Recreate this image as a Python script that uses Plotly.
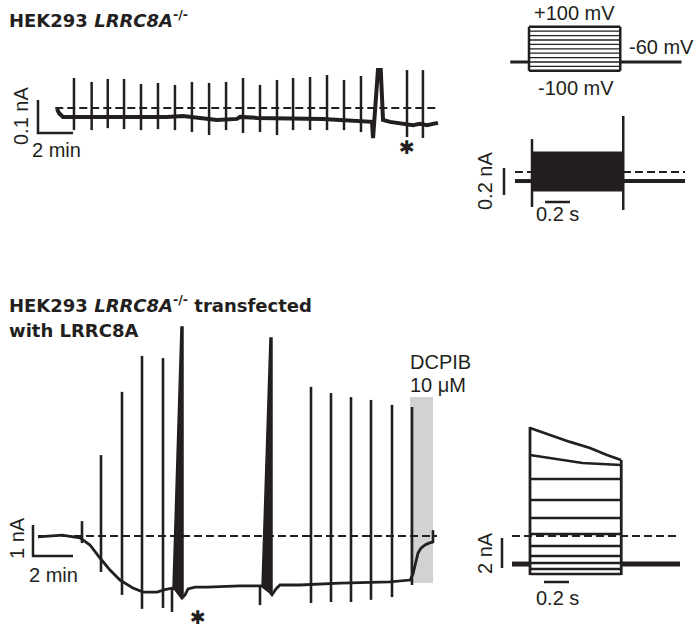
import plotly.graph_objects as go

W, H = 697, 633
INK = "#231f20"
FONT = "Liberation Sans, Arial, sans-serif"
TFONT = "DejaVu Sans, sans-serif"

# ---------------- data ----------------
# Panel A: HEK293 LRRC8A-/- time course (min, nA)
A_base_t = [0, 0.11, 0.34, 0.74, 1.49, 2.46, 3.43, 4.46, 5.31, 6.29, 7.20, 8.17, 9.14, 10.29,
            10.46, 11.43, 12.34, 13.31, 14.29, 15.20, 16.17, 17.03, 17.71, 18.00, 18.06, 18.34,
            18.50, 18.63, 19.03, 19.43, 19.89, 20.34, 20.74, 21.14, 21.49, 21.77]
A_base_i = [-0.003, -0.015, -0.027, -0.027, -0.030, -0.030, -0.027, -0.030, -0.027, -0.027,
            -0.024, -0.030, -0.036, -0.033, -0.027, -0.030, -0.030, -0.033, -0.030, -0.033,
            -0.036, -0.039, -0.042, -0.042, -0.091, 0.115, 0.115, -0.036, -0.042, -0.045,
            -0.048, -0.052, -0.048, -0.052, -0.048, -0.045]
A_spk_t = [0.97, 1.98, 2.90, 3.83, 4.80, 5.77, 6.74, 7.71, 8.69, 9.66, 10.63, 11.60, 12.57,
           13.49, 14.46, 15.43, 16.40, 17.37, 20.00, 20.91]
A_spk_top = [0.091, 0.079, 0.088, 0.088, 0.073, 0.076, 0.070, 0.079, 0.076, 0.079, 0.091,
             0.070, 0.085, 0.091, 0.094, 0.100, 0.085, 0.097, 0.115, 0.115]
A_spk_bot = [-0.067, -0.067, -0.061, -0.064, -0.067, -0.064, -0.067, -0.073, -0.082, -0.067,
             -0.076, -0.073, -0.082, -0.067, -0.067, -0.067, -0.067, -0.073, -0.088, -0.091]

# Voltage protocol (s, mV)
V_levels = [-100, -80, -60, -40, -20, 0, 20, 40, 60, 80, 100]
V_hold = -60
step_dur = 0.73
pre_t, post_t = -0.15, 1.22

# Panel B: LRRC8A-/- current responses (s, nA)
B_lvl_i = [-0.133, -0.108, -0.085, -0.062, -0.040, -0.015, 0.012, 0.040, 0.070, 0.100, 0.141]
B_hold_i = -0.067
B_cap_on = (0.244, -0.259)
B_cap_off = (0.415, -0.281)

# Panel C: LRRC8A-transfected time course (min, nA)
C_base_t = [0, 1.2, 2.1, 2.6, 3.1, 3.6, 4.1, 4.75, 5.25, 5.6, 5.95, 6.35, 6.7, 6.85, 7.2, 7.35,
            7.5, 7.85, 8.45, 10.1, 11.2, 11.6, 11.7, 11.9, 12.1, 13.1, 15.1, 17.6, 18.6, 18.75,
            18.9, 19.0, 19.15, 19.35, 19.55, 19.75]
C_base_i = [-0.03, 0.03, -0.06, -0.29, -0.71, -1.10, -1.42, -1.68, -1.81, -1.82, -1.81, -1.73,
            -1.68, -1.71, -2.00, -1.90, -1.71, -1.65, -1.65, -1.61, -1.61, -1.81, -1.90, -1.71,
            -1.58, -1.58, -1.52, -1.48, -1.42, -1.23, -0.84, -0.55, -0.39, -0.29, -0.23, -0.19]
C_spk_t = [2.2, 3.15, 4.2, 5.2, 6.25, 6.7, 11.1, 13.65, 14.65, 15.65, 16.65, 17.7, 18.7, 19.75]
C_spk_top = [0.48, 2.61, 4.65, 5.81, 5.74, -1.65, -1.58, 4.81, 4.61, 4.48, 4.39, 4.23, 4.16, 0.19]
C_spk_bot = [-0.23, -1.16, -1.90, -2.35, -2.32, -2.45, -2.23, -2.16, -2.13, -2.13, -2.06, -1.97,
             -1.58, -0.23]
C_big1_t = [6.75, 7.15, 7.25, 7.25]
C_big1_i = [-1.68, 6.74, 6.74, -2.00]
C_big2_t = [11.2, 11.6, 11.7, 11.7]
C_big2_i = [-1.65, 6.39, 6.39, -1.90]
C_dcpib = (18.6, 19.75)
C_dcpib_i = (-1.52, 4.48)

# Panel D: LRRC8A-transfected current responses (s, nA)
D_top_t = [0.0, 0.16, 0.32, 0.48, 0.616, 0.728]
D_top_i = [7.2, 6.73, 6.27, 5.87, 5.4, 5.07]
D_2nd_t = [0.0, 0.16, 0.42, 0.728]
D_2nd_i = [5.4, 5.2, 4.87, 4.73]
D_flat_i = [3.8, 2.4, 1.2, 0.13, -0.67, -1.33, -1.8, -2.2, -2.53]
D_hold_i = -1.87
D_edge_on = (7.27, -2.6)
D_edge_off = (5.07, -2.6)

# ---------------- layout helpers ----------------
# panel: pixel box (x0,x1,y0,y1), pixel of data origin and pixels per unit
panels = {
    "A": dict(ax="", box=(0, 450, 36, 175), ox=57, sx=17.5, oy=108, sy=330),
    "P": dict(ax="2", box=(455, 697, 0, 100), ox=529, sx=125, oy=48.8, sy=0.22),
    "B": dict(ax="3", box=(455, 697, 100, 235), ox=532, sx=125, oy=172, sy=135),
    "C": dict(ax="4", box=(0, 450, 290, 633), ox=38, sx=20, oy=536, sy=31),
    "D": dict(ax="5", box=(455, 697, 380, 633), ox=530, sx=125, oy=536, sy=15),
}


def xy(p):
    a = panels[p]["ax"]
    return "x" + a, "y" + a


def to_data(p, px, py):
    d = panels[p]
    return (px - d["ox"]) / d["sx"], (d["oy"] - py) / d["sy"]


fig = go.Figure()


def line(p, x, y, w=2.5, dash=None, fill=None, color=INK):
    xa, ya = xy(p)
    fig.add_trace(go.Scatter(x=list(x), y=list(y), mode="lines", xaxis=xa, yaxis=ya,
                             line=dict(color=color, width=w, dash=dash),
                             fill=fill, fillcolor=color if fill else None,
                             hoverinfo="skip", showlegend=False))


def spikes(p, ts, tops, bots, w=2.5):
    for t, a, b in zip(ts, tops, bots):
        line(p, [t, t], [a, b], w=w)


DASH = "8px,4px"

# ----- Panel A -----
line("A", [-0.1, 21.7], [0, 0], w=2, dash=DASH)
line("A", A_base_t, A_base_i, w=4)
spikes("A", A_spk_t, A_spk_top, A_spk_bot, w=2.5)
a0t, a0i = to_data("A", 38, 133)
line("A", [a0t, a0t, a0t + 2], [a0i + 0.1, a0i, a0i], w=2.5)

# ----- Protocol -----
line("P", [pre_t, 0], [V_hold, V_hold], w=3)
line("P", [step_dur, post_t], [V_hold, V_hold], w=3)
for v in V_levels:
    line("P", [0, step_dur], [v, v], w=2.5 if v in (V_levels[0], V_levels[-1]) else 1.3)
line("P", [0, 0], [V_levels[0], V_levels[-1]], w=2.5)
line("P", [step_dur, step_dur], [V_levels[0], V_levels[-1]], w=2.5)

# ----- Panel B -----
line("B", [-0.136, 1.224], [0, 0], w=2, dash=DASH)
line("B", [0, step_dur, step_dur, 0], [B_lvl_i[0], B_lvl_i[0], B_lvl_i[-1], B_lvl_i[-1]],
     w=1, fill="toself")
for i in B_lvl_i:
    line("B", [0, step_dur], [i, i], w=3)
line("B", [-0.136, 0], [B_hold_i, B_hold_i], w=4)
line("B", [step_dur, 1.224], [B_hold_i, B_hold_i], w=4)
line("B", [0, 0], B_cap_on, w=2.5)
line("B", [step_dur, step_dur], B_cap_off, w=2.5)
b0t, b0i = to_data("B", 504, 195)
line("B", [b0t, b0t], [b0i, b0i + 0.2], w=2.5)
b1t, b1i = to_data("B", 545, 202)
line("B", [b1t, b1t + 0.2], [b1i, b1i], w=2.5)

# ----- Panel C -----
xa4, ya4 = xy("C")
fig.add_shape(type="rect", xref=xa4, yref=ya4, x0=C_dcpib[0], x1=C_dcpib[1],
              y0=C_dcpib_i[0], y1=C_dcpib_i[1], fillcolor="#d2d2d2",
              line=dict(width=0), layer="below")
line("C", [0, 19.95], [0, 0], w=2, dash=DASH)
line("C", C_base_t, C_base_i, w=2.8)
line("C", C_big1_t, C_big1_i, w=1.5, fill="toself")
line("C", C_big2_t, C_big2_i, w=1.5, fill="toself")
spikes("C", C_spk_t, C_spk_top, C_spk_bot, w=2.6)
c0t, c0i = to_data("C", 33, 556)
line("C", [c0t, c0t, c0t + 2], [c0i + 1, c0i, c0i], w=2.5)

# ----- Panel D -----
line("D", [-0.144, 1.2], [0, 0], w=2, dash=DASH)
line("D", D_top_t, D_top_i, w=2.8)
line("D", D_2nd_t, D_2nd_i, w=2.6)
for i in D_flat_i:
    line("D", [0, step_dur], [i, i], w=2.5)
line("D", [0, 0], D_edge_on, w=2.8)
line("D", [step_dur, step_dur], D_edge_off, w=2.8)
line("D", [-0.144, 0], [D_hold_i, D_hold_i], w=5)
line("D", [step_dur, 1.2], [D_hold_i, D_hold_i], w=5)
d0t, d0i = to_data("D", 502, 568)
line("D", [d0t, d0t], [d0i, d0i + 2], w=2.5)
d1t, d1i = to_data("D", 544, 582)
line("D", [d1t, d1t + 0.2], [d1i, d1i], w=2.5)

# ----- axes -----
lay = {}
for p, d in panels.items():
    x0, x1, y0, y1 = d["box"]
    a = d["ax"]
    lay["xaxis" + a] = dict(domain=[x0 / W, x1 / W],
                            range=[(x0 - d["ox"]) / d["sx"], (x1 - d["ox"]) / d["sx"]],
                            visible=False, fixedrange=True, autorange=False,
                            anchor="y" + a)
    lay["yaxis" + a] = dict(domain=[1 - y1 / H, 1 - y0 / H],
                            range=[(d["oy"] - y1) / d["sy"], (d["oy"] - y0) / d["sy"]],
                            visible=False, fixedrange=True, autorange=False,
                            anchor="x" + a)


def P(px, py):
    return px / W, 1 - py / H


ann = []


def text(s, px, py, size=20, xanchor="center", angle=0, family=FONT):
    x, y = P(px, py)
    ann.append(dict(text=s, x=x, y=y, xref="paper", yref="paper", showarrow=False,
                    xanchor=xanchor, yanchor="middle", textangle=angle,
                    font=dict(family=family, size=size, color=INK)))


text("<b>HEK293 <i>LRRC8A</i><sup>-/-</sup></b>", 7, 19, size=18, xanchor="left", family=TFONT)
text("<b>HEK293 <i>LRRC8A</i><sup>-/-</sup> transfected</b>", 7, 304, size=18,
     xanchor="left", family=TFONT)
text("<b>with LRRC8A</b>", 7, 330, size=18, xanchor="left", family=TFONT)
text("0.1 nA", 21, 116, angle=-90)
text("2 min", 57, 150)
text("+100 mV", 574, 13)
text("-100 mV", 576, 88)
text("-60 mV", 627, 47, xanchor="left")
text("0.2 nA", 485, 181, angle=-90)
text("0.2 s", 557, 214)
text("DCPIB", 408, 362, xanchor="left")
text("10 μM", 408, 385, xanchor="left")
text("1 nA", 17, 538, angle=-90)
text("2 min", 54, 575)
text("2 nA", 485, 553, angle=-90)
text("0.2 s", 557, 598)
text("✱", 407, 147, size=19, family=TFONT)
text("✱", 198, 617, size=19, family=TFONT)

fig.update_layout(width=W, height=H, margin=dict(l=0, r=0, t=0, b=0),
                  paper_bgcolor="white", plot_bgcolor="rgba(0,0,0,0)",
                  showlegend=False, annotations=ann, **lay)

fig.write_html("out.html", config={"displayModeBar": False})
